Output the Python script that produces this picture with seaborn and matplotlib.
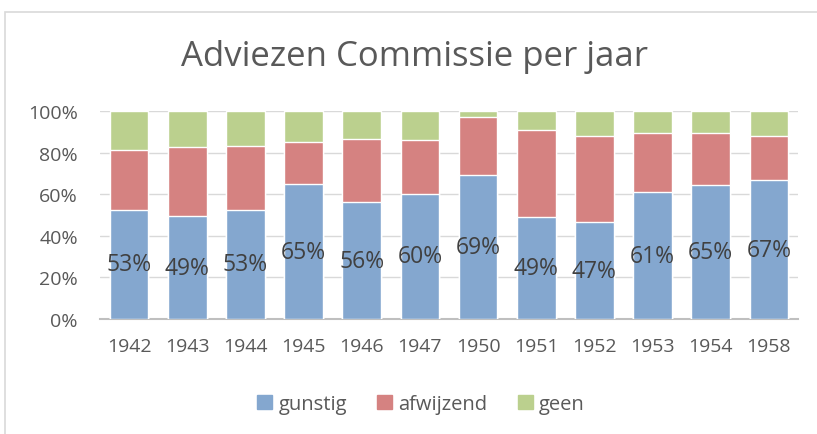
"""
Adviezen Commissie per jaar - 100% stacked bar chart
"""

import pandas as pd
import matplotlib.pyplot as plt
import matplotlib.patches as mpatches
import seaborn as sns
from matplotlib.ticker import FuncFormatter

# data (percent per year)
years = ['1942', '1943', '1944', '1945', '1946', '1947',
         '1950', '1951', '1952', '1953', '1954', '1958']
gunstig = [52.6, 49.4, 52.6, 64.7, 56.1, 60.1, 69.4, 48.9, 46.6, 60.9, 64.6, 66.7]
afwijzend = [28.7, 33.4, 30.6, 20.6, 30.6, 26.0, 27.9, 41.8, 41.2, 28.7, 25.0, 21.4]
geen = [18.7, 17.2, 16.8, 14.7, 13.3, 13.9, 2.7, 9.3, 12.2, 10.4, 10.4, 11.9]

series = ['gunstig', 'afwijzend', 'geen']
colors = {'gunstig': '#84A7CF', 'afwijzend': '#D58281', 'geen': '#BBD08E'}

df = pd.DataFrame({'year': years, 'gunstig': gunstig,
                   'afwijzend': afwijzend, 'geen': geen})
# cumulative tops for overlaid stacking
df['top_afwijzend'] = df['gunstig'] + df['afwijzend']
df['top_geen'] = df['top_afwijzend'] + df['geen']

sns.set_style('white')
plt.rcParams['font.family'] = ['Open Sans', 'DejaVu Sans']

W, H = 817, 435
fig = plt.figure(figsize=(W / 100, H / 100), dpi=100)
ax = fig.add_axes([100 / W, (H - 320) / H, (798 - 100) / W, (320 - 112) / H])

bar_w = 0.665
sns.barplot(data=df, x='year', y='top_geen', color=colors['geen'],
            width=bar_w, saturation=1, ax=ax, zorder=3)
sns.barplot(data=df, x='year', y='top_afwijzend', color=colors['afwijzend'],
            width=bar_w, saturation=1, ax=ax, zorder=3)
sns.barplot(data=df, x='year', y='gunstig', color=colors['gunstig'],
            width=bar_w, saturation=1, ax=ax, zorder=3)

# data labels in the middle of the blue segment
for i, v in enumerate(gunstig):
    ax.text(i, v / 2, f'{v:.0f}%', ha='center', va='center',
            fontsize=16.5, color='#404040', zorder=4)

ax.set_ylim(0, 100)
ax.set_xlim(-0.5, len(years) - 0.5)
ax.set_yticks(range(0, 101, 20))
ax.yaxis.set_major_formatter(FuncFormatter(lambda v, _: f'{v:.0f}%'))
ax.set_xlabel('')
ax.set_ylabel('')
ax.grid(axis='y', color='#D9D9D9', linewidth=1, zorder=0)
ax.set_axisbelow(True)
for side in ['top', 'right', 'left']:
    ax.spines[side].set_visible(False)
ax.spines['bottom'].set_color('#BFBFBF')
ax.spines['bottom'].set_linewidth(1.5)
ax.tick_params(axis='both', length=0, labelsize=14, colors='#595959')
ax.tick_params(axis='y', pad=16)
ax.tick_params(axis='x', pad=13)

fig.text(415 / W, 1 - 57 / H, 'Adviezen Commissie per jaar', ha='center',
         va='center', fontsize=25, color='#595959')

handles = [mpatches.Patch(color=colors[s], label=s) for s in series]
fig.legend(handles=handles, loc='center', bbox_to_anchor=(421 / W, 1 - 405 / H),
           ncol=3, frameon=False, fontsize=14.5, labelcolor='#595959',
           handlelength=0.75, handleheight=0.75, handletextpad=0.3,
           columnspacing=1.5)

# chart area border
fig.add_artist(mpatches.Rectangle((5 / W, -0.1), 1.0, (H - 13) / H + 0.1,
                                  transform=fig.transFigure, fill=False,
                                  edgecolor='#D9D9D9', linewidth=1.2))

fig.savefig('out.png', dpi=100)
